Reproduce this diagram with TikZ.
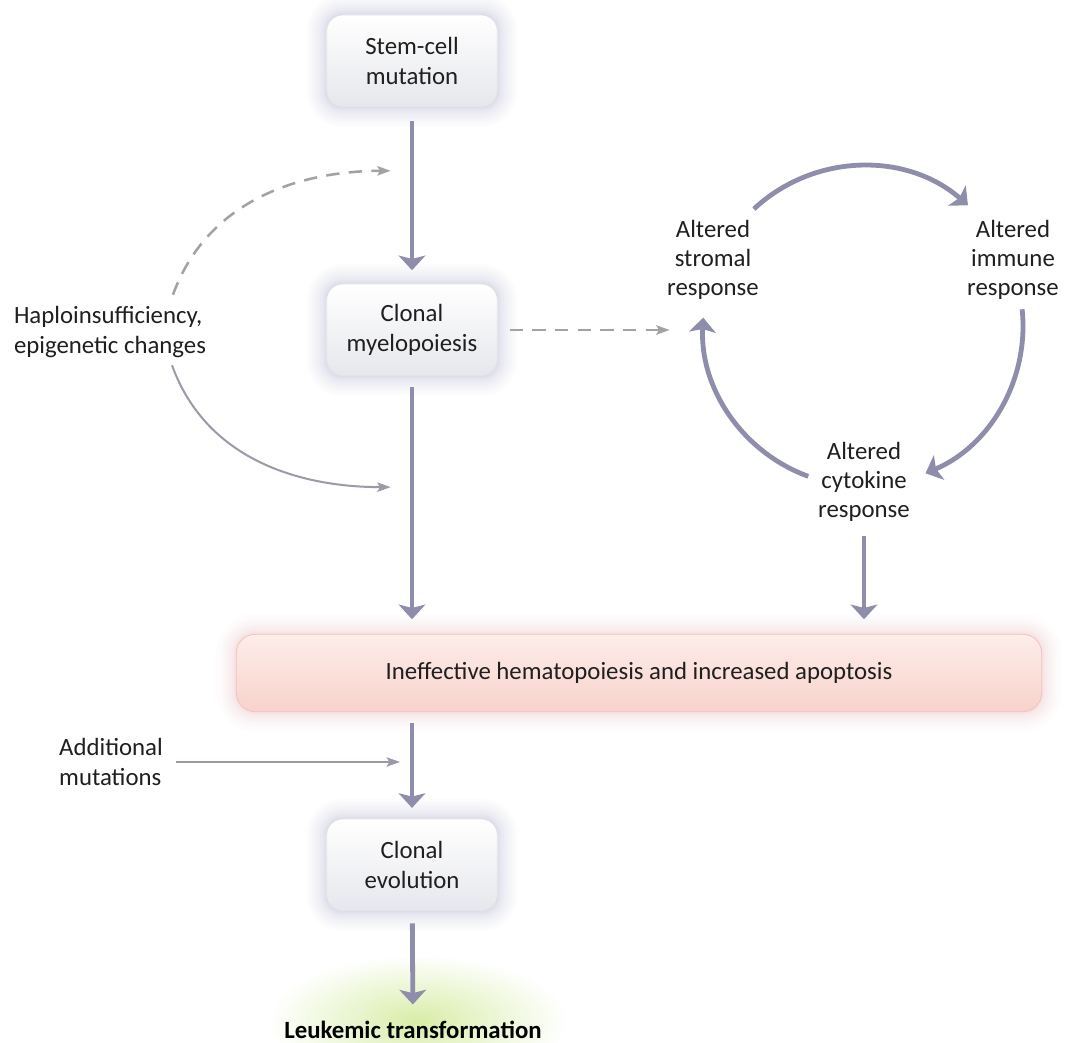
\documentclass[tikz,border=0pt]{standalone}
\usepackage{fontspec}
\setmainfont{Carlito}
\usetikzlibrary{arrows.meta, positioning, calc}
\definecolor{mArrow}{HTML}{8E8EAC}
\definecolor{mThin}{HTML}{9A9AA8}
\definecolor{mDash}{HTML}{A2A2A2}
\definecolor{mGlow}{HTML}{8C8CC8}
\definecolor{mBoxLow}{HTML}{E6E7EC}
\definecolor{mPinkTop}{HTML}{FDEDE9}
\definecolor{mPink}{HTML}{F8D2CC}
\definecolor{mPinkLine}{HTML}{F2C2BE}
\definecolor{mPinkGlow}{HTML}{F09AA0}
\definecolor{mLeaf}{HTML}{D8EDA8}

\begin{document}
\begin{tikzpicture}[x=0.75pt, y=0.75pt,
    font=\fontsize{18.6}{22}\selectfont, text=black!88,
    glow/.style={preaction={draw=#1, line width=30pt, draw opacity=0.02},
                 preaction={draw=#1, line width=26pt, draw opacity=0.02},
                 preaction={draw=#1, line width=22pt, draw opacity=0.025},
                 preaction={draw=#1, line width=18pt, draw opacity=0.03},
                 preaction={draw=#1, line width=14pt, draw opacity=0.035},
                 preaction={draw=#1, line width=10pt, draw opacity=0.04},
                 preaction={draw=#1, line width=6pt, draw opacity=0.05},
                 preaction={draw=#1, line width=3pt, draw opacity=0.06}},
    box/.style={glow=mGlow, rounded corners=12pt, draw=black!12, line width=0.6pt,
                top color=white, bottom color=mBoxLow, align=center,
                minimum width=128pt, minimum height=69pt},
    bigbox/.style={glow=mPinkGlow, rounded corners=14pt, draw=mPinkLine, line width=0.6pt,
                top color=mPinkTop, bottom color=mPink,
                minimum width=604pt, minimum height=58pt},
    lbl/.style={align=center, inner sep=2pt},
    flow/.style={draw=mArrow, line width=3.6pt, -{Stealth[width=20pt, length=11pt, inset=2.5pt]}},
    feed/.style={draw=mThin, line width=1.5pt, -{Stealth[width=7pt, length=10pt, inset=2pt]}},
    dashfeed/.style={feed, draw=mDash, line width=1.9pt, dash pattern=on 10pt off 7pt}]
    \useasboundingbox (0,0) rectangle (1065,1043);
    \fill[white] (0,0) rectangle (1065,1043);
    \shade[inner color=mLeaf, outer color=white] (418,22) ellipse [x radius=150, y radius=66];

    \node[box] (stem) at (412,982) {Stem-cell\\mutation};
    \node[box] (clonal) at (412,713) {Clonal\\myelopoiesis};
    \node[bigbox] (ineff) at (639,370) {Ineffective hematopoiesis and increased apoptosis};
    \node[box] (evol) at (412,178) {Clonal\\evolution};
    \node[font=\fontsize{18.6}{22}\selectfont\bfseries, text=black] (leuk) at (413,13) {Leukemic transformation};
    \node[lbl, align=left] (haplo) at (110,711) {Haploinsufficiency,\\epigenetic changes};
    \node[lbl, align=left] (addmut) at (111,281) {Additional\\mutations};
    \node[lbl] (stromal) at (713,783) {Altered\\stromal\\response};
    \node[lbl] (immune) at (1013,783) {Altered\\immune\\response};
    \node[lbl] (cyto) at (864,561) {Altered\\cytokine\\response};
    \node[circle, minimum size=240pt, inner sep=0pt, outer sep=0pt] (cyc) at (863,717) {};

    \draw[flow, shorten <=10pt, shorten >=10pt] (stem) -- (clonal);
    \draw[flow, shorten <=8pt, shorten >=11pt] (clonal.south) -- (clonal.south |- ineff.north);
    \draw[flow, shorten <=8pt, shorten >=8pt] (ineff.south -| evol.north) -- (evol.north);
    \draw[flow, shorten <=9pt, shorten >=9pt] (evol) -- (leuk);
    \draw[flow, shorten <=8pt, shorten >=11pt] (cyto.south) -- (cyto.south |- ineff.north);

    \draw[flow] (cyc.133) arc[start angle=133, end angle=49, radius=120pt];
    \draw[flow] (cyc.6) arc[start angle=6, end angle=-67, radius=120pt];
    \draw[flow] (cyc.-110) arc[start angle=-110, end angle=-183, radius=120pt];

    \draw[dashfeed, shorten <=9pt, shorten >=25pt] (clonal.east) -- (clonal.east -| cyc.west);

    \coordinate (hitA) at ($(stem.south)!0.36!(clonal.north)$);
    \coordinate (hitB) at ($(clonal.south)!0.43!(clonal.south |- ineff.north)$);
    \draw[dashfeed, shorten >=16pt] ($(haplo.north)+(63,9)$) to[out=70, in=180] (hitA);
    \draw[feed, shorten >=16pt] ($(haplo.south)+(62,-5)$) to[out=-70, in=180] (hitB);
    \draw[feed, shorten <=8pt, shorten >=9pt] (addmut.east) -- (addmut.east -| evol.north);
\end{tikzpicture}
\end{document}
